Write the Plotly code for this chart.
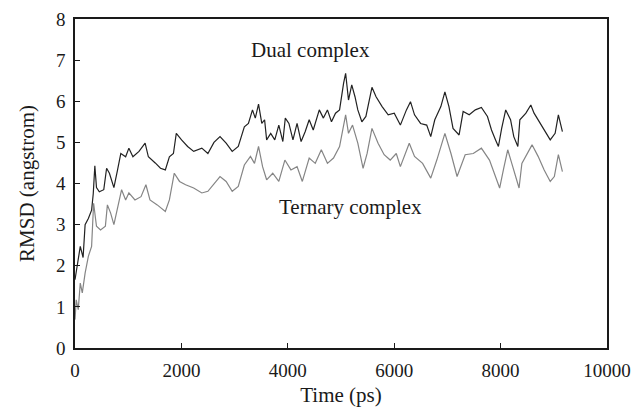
import plotly.graph_objects as go

# RMSD trajectories (time in ps, RMSD in angstrom)
dual_time = [0, 38, 99, 152, 190, 251, 312, 343, 373, 404, 457, 541, 594, 647, 731, 800,
             861, 952, 1013, 1089, 1203, 1318, 1379, 1508, 1607, 1698, 1774, 1850, 1904,
             2003, 2117, 2231, 2384, 2498, 2612, 2726, 2841, 2955, 3069, 3183, 3260, 3336,
             3389, 3450, 3511, 3564, 3602, 3679, 3755, 3831, 3907, 3953, 4021, 4097, 4174,
             4250, 4326, 4402, 4478, 4592, 4669, 4745, 4821, 4897, 4973, 5049, 5087, 5141,
             5202, 5263, 5316, 5392, 5468, 5582, 5659, 5773, 5887, 6001, 6116, 6230, 6306,
             6382, 6496, 6611, 6687, 6763, 6877, 6953, 7029, 7106, 7220, 7296, 7410, 7525,
             7639, 7753, 7829, 7905, 7959, 8020, 8096, 8187, 8248, 8324, 8362, 8476, 8568,
             8629, 8743, 8842, 8933, 9025, 9086, 9162]
dual_rmsd = [1.66, 2.0, 2.47, 2.2, 3.0, 3.15, 3.35, 3.75, 4.43, 3.9, 3.8, 3.85, 4.37, 4.25,
             3.9, 4.33, 4.73, 4.65, 4.86, 4.65, 4.78, 4.98, 4.65, 4.5, 4.37, 4.33, 4.65,
             4.73, 5.22, 5.06, 4.9, 4.78, 4.86, 4.73, 5.0, 5.14, 4.98, 4.78, 4.9, 5.38, 5.46,
             5.79, 5.59, 5.93, 5.46, 5.55, 5.06, 5.22, 5.06, 5.42, 5.02, 5.59, 5.46, 5.06,
             5.46, 5.02, 5.26, 5.55, 5.3, 5.79, 5.59, 5.79, 5.5, 5.71, 5.79, 6.44, 6.68, 6.03,
             6.4, 6.11, 5.79, 5.5, 5.63, 6.34, 6.11, 5.87, 5.67, 5.71, 5.42, 5.79, 5.99, 5.67,
             5.46, 5.42, 5.14, 5.55, 5.87, 6.23, 5.87, 5.34, 5.18, 5.75, 5.67, 5.79, 5.85,
             5.63, 5.3, 5.06, 4.9, 5.34, 5.79, 5.55, 5.14, 4.9, 5.55, 5.71, 5.91, 5.71, 5.46,
             5.26, 5.06, 5.22, 5.67, 5.26]

ternary_time = [0, 23, 61, 99, 137, 190, 251, 312, 350, 404, 480, 571, 609, 670, 731, 800,
                876, 952, 1013, 1127, 1241, 1333, 1409, 1546, 1698, 1774, 1866, 1965, 2079,
                2231, 2384, 2498, 2612, 2726, 2841, 2955, 3069, 3183, 3298, 3374, 3450, 3526,
                3602, 3717, 3831, 3945, 4059, 4174, 4273, 4402, 4516, 4630, 4745, 4859, 4973,
                5087, 5141, 5217, 5316, 5415, 5491, 5582, 5697, 5811, 5925, 6039, 6116, 6283,
                6382, 6534, 6687, 6801, 6953, 7067, 7182, 7334, 7486, 7639, 7791, 7867, 7982,
                8058, 8134, 8210, 8347, 8400, 8476, 8591, 8705, 8819, 8933, 9010, 9086, 9162]
ternary_rmsd = [0.69, 1.17, 0.93, 1.58, 1.34, 1.82, 2.23, 2.47, 3.52, 2.96, 2.87, 2.96, 3.48,
                3.28, 3.0, 3.44, 3.85, 3.6, 3.77, 3.6, 3.68, 3.97, 3.6, 3.48, 3.32, 3.6, 4.25,
                4.05, 3.97, 3.89, 3.77, 3.81, 4.0, 4.17, 4.05, 3.81, 3.93, 4.45, 4.66, 4.49,
                4.9, 4.41, 4.09, 4.25, 4.05, 4.57, 4.33, 4.41, 4.05, 4.62, 4.49, 4.82, 4.49,
                4.62, 4.9, 5.67, 5.22, 5.42, 4.98, 4.37, 4.73, 5.34, 4.98, 4.7, 4.57, 4.73,
                4.41, 4.98, 4.66, 4.49, 4.13, 4.57, 5.22, 4.73, 4.17, 4.7, 4.73, 4.86, 4.57,
                4.29, 3.89, 4.37, 4.82, 4.49, 3.89, 4.49, 4.66, 4.94, 4.66, 4.33, 4.05, 4.17,
                4.7, 4.29]

x_ticks = [0, 2000, 4000, 6000, 8000, 10000]
y_ticks = [0, 1, 2, 3, 4, 5, 6, 7, 8]

FONT = "Liberation Serif"
INK = "#1a1a1a"

fig = go.Figure()
fig.add_trace(go.Scatter(x=ternary_time, y=ternary_rmsd, mode="lines",
                         line=dict(color="#858585", width=1.2), showlegend=False))
fig.add_trace(go.Scatter(x=dual_time, y=dual_rmsd, mode="lines",
                         line=dict(color="#222222", width=1.2), showlegend=False))

fig.add_annotation(x=4430, y=7.25, text="Dual complex", showarrow=False,
                   font=dict(family=FONT, size=21, color=INK))
fig.add_annotation(x=5180, y=3.43, text="Ternary complex", showarrow=False,
                   font=dict(family=FONT, size=21, color=INK))

axis_common = dict(showgrid=False, zeroline=False, showline=True, linecolor=INK,
                   linewidth=1.5, mirror=True, ticks="inside", ticklen=5, tickwidth=1,
                   tickcolor=INK, tickfont=dict(family=FONT, size=19, color=INK))

fig.update_xaxes(range=[0, 10000], tickvals=x_ticks, ticktext=[str(v) for v in x_ticks],
                 ticklabelstandoff=4, ticklabeloverflow="allow",
                 title=dict(text="Time (ps)", font=dict(family=FONT, size=21, color=INK),
                            standoff=8),
                 **axis_common)
fig.update_yaxes(range=[0, 8], tickvals=y_ticks, ticklabelstandoff=4,
                 title=dict(text="RMSD (angstrom)", font=dict(family=FONT, size=21, color=INK),
                            standoff=16),
                 **axis_common)

fig.update_layout(width=632, height=412, margin=dict(l=75, r=25, t=19, b=64, autoexpand=False),
                  plot_bgcolor="white", paper_bgcolor="white")

fig.write_html("out.html")
